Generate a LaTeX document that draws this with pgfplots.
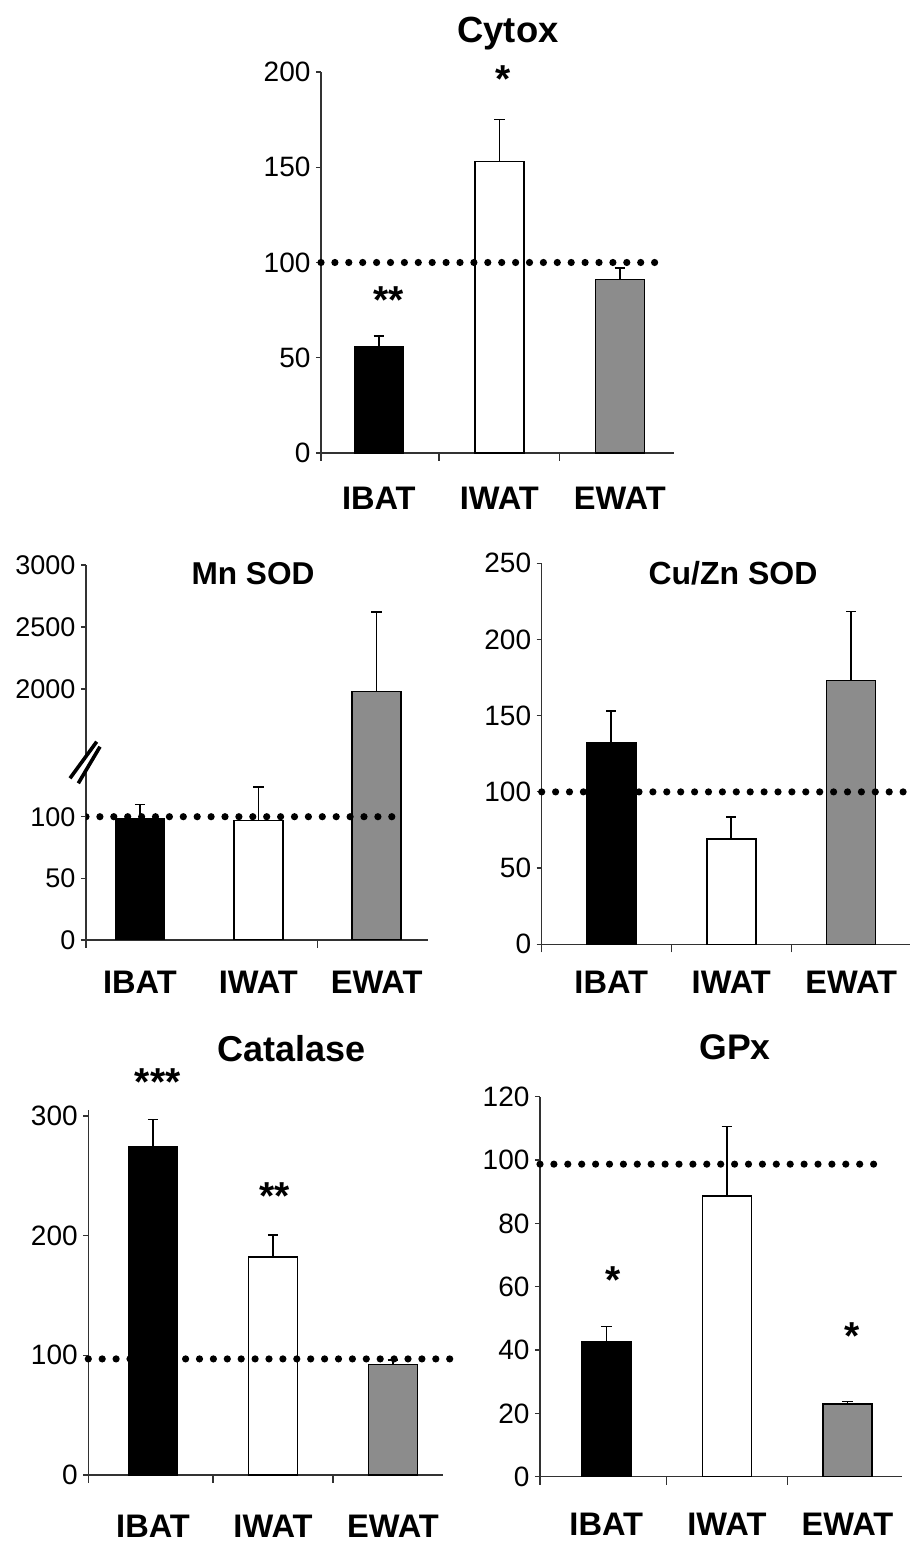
\documentclass[border=0pt]{standalone}
\usepackage{fontspec}
\setmainfont{Liberation Sans}
\usepackage{pgfplots}
\pgfplotsset{compat=1.18}
\definecolor{bargray}{RGB}{140,140,140}
\definecolor{axisgray}{RGB}{50,50,50}
\pgfplotsset{
  panel/.style={
    scale only axis, anchor=south west, clip=false,
    axis x line=bottom, axis y line=left,
    axis line style={-, line width=0.6pt, axisgray},
    tick style={line width=0.6pt, axisgray},
    tick align=outside,
    major tick length=2.6pt, minor tick length=4pt,
    major x tick style={draw=none},
    /pgf/number format/assume math mode=true,
    scaled y ticks=false, /pgf/number format/1000 sep={},
    yticklabel style={font=\fontsize{14}{14}\selectfont, inner xsep=2.5pt},
    xtick={0,1,2}, xticklabels={IBAT,IWAT,EWAT},
    xticklabel style={font=\bfseries\fontsize{16.3}{16}\selectfont, anchor=base, inner ysep=0pt},
  },
  barbase/.style={ybar, bar width=24.5pt, bar shift=0pt, draw=black, line width=0.75pt,
    error bars/y dir=plus, error bars/y explicit,
    error bars/error bar style={line width=0.8pt, black},
    error bars/error mark options={black, line width=0.8pt, mark size=2.6pt, rotate=90}},
  barblack/.style={barbase, fill=black},
  barwhite/.style={barbase, fill=white},
  bargrey/.style={barbase, fill=bargray},
  dots/.style={line width=3.6pt, line cap=round, dash pattern=on 0pt off 6.95pt, black},
}
\begin{document}
\begin{tikzpicture}
\useasboundingbox (0,0) rectangle (455pt,772pt);

% ---------------- Cytox ----------------
\begin{axis}[panel, at={(160.5pt,545.5pt)}, width=176.5pt, height=190.5pt,
  xmin=-0.48, xmax=2.45, ymin=0, ymax=200, ytick={0,50,100,150,200},
  minor xtick={-0.48,0.5,1.5},
  xticklabel style={yshift=-25.7pt}]
  \addplot[barblack] coordinates {(0,56) +- (0,5.5)};
  \addplot[barwhite] coordinates {(1,153) +- (0,22)};
  \addplot[bargrey] coordinates {(2,91) +- (0,6)};
  \addplot[dots] coordinates {(-0.48,100) (2.353,100)};
\end{axis}

% ---------------- Mn SOD (broken axis) ----------------
\begin{axis}[panel, at={(43pt,302pt)}, width=171pt, height=90pt, clip=true,
  xmin=-0.456, xmax=2.434, ymin=0, ymax=146, ytick={0,50,100},
  minor xtick={-0.456,1.5},
  yticklabel style={font=\fontsize{13.5}{13.5}\selectfont},
  xticklabel style={yshift=-24.1pt}]
  \addplot[barblack] coordinates {(0,98) +- (0,12)};
  \addplot[barwhite] coordinates {(1,97) +- (0,27)};
  \addplot[bargrey] coordinates {(2,1978) +- (0,645)};
  \addplot[dots] coordinates {(-0.456,100) (2.22,100)};
\end{axis}
\begin{axis}[panel, at={(43pt,392pt)}, width=171pt, height=97.5pt, clip=true,
  axis x line=none,
  xmin=-0.456, xmax=2.434, ymin=1427, ymax=3000, ytick={2000,2500,3000},
  yticklabels={2000,2500,3000},
  yticklabel style={font=\fontsize{13.5}{13.5}\selectfont}]
  \addplot[bargrey, draw=none] coordinates {(2,1978) +- (0,645)};
  \addplot[black, line width=0.75pt] coordinates {(1.793,1000) (1.793,1978) (2.207,1978) (2.207,1000)};
\end{axis}
\fill[white] (35pt,382.85pt) -- (48.35pt,401.15pt) -- (50pt,398.65pt) -- (39.15pt,380.35pt) -- cycle;
\draw[line width=1.8pt, black] (35pt,382.85pt) -- (48.35pt,401.15pt);
\draw[line width=1.8pt, black] (39.15pt,380.35pt) -- (50pt,398.65pt);

% ---------------- Cu/Zn SOD ----------------
\begin{axis}[panel, at={(270.85pt,299.85pt)}, width=184.15pt, height=190.5pt,
  xmin=-0.58, xmax=2.49, ymin=0, ymax=250, ytick={0,50,100,150,200,250},
  minor xtick={-0.58,0.5,1.5},
  xticklabel style={yshift=-21.9pt}]
  \addplot[barblack] coordinates {(0,132.5) +- (0,20.5)};
  \addplot[barwhite] coordinates {(1,69) +- (0,14.7)};
  \addplot[bargrey] coordinates {(2,173) +- (0,45.5)};
  \addplot[dots] coordinates {(-0.58,100) (2.62,100)};
\end{axis}

% ---------------- Catalase ----------------
\begin{axis}[panel, at={(44.15pt,34.5pt)}, width=177.5pt, height=182.5pt,
  xmin=-0.54, xmax=2.42, ymin=0, ymax=305, ytick={0,100,200,300},
  minor xtick={-0.54,0.5,1.5},
  xticklabel style={yshift=-28.9pt}]
  \addplot[barblack] coordinates {(0,274) +- (0,23)};
  \addplot[barwhite] coordinates {(1,182) +- (0,18.5)};
  \addplot[bargrey] coordinates {(2,92.5) +- (0,3.5)};
  \addplot[dots] coordinates {(-0.54,97) (2.49,97)};
\end{axis}

% ---------------- GPx ----------------
\begin{axis}[panel, at={(270pt,33.65pt)}, width=180.85pt, height=190pt,
  xmin=-0.55, xmax=2.45, ymin=0, ymax=120, ytick={0,20,40,60,80,100,120},
  minor xtick={-0.55,0.5,1.5},
  xticklabel style={yshift=-26.6pt}]
  \addplot[barblack] coordinates {(0,42.6) +- (0,4.8)};
  \addplot[barwhite] coordinates {(1,88.6) +- (0,22)};
  \addplot[bargrey] coordinates {(2,22.9) +- (0,0.8)};
  \addplot[dots] coordinates {(-0.55,98.7) (2.31,98.7)};
\end{axis}

% ---------------- titles ----------------
\node[anchor=base, font=\bfseries\fontsize{18.2}{18}\selectfont] at (254pt,750.65pt) {Cytox};
\node[anchor=base, font=\bfseries\fontsize{15.8}{16}\selectfont] at (126.5pt,479.85pt) {Mn SOD};
\node[anchor=base, font=\bfseries\fontsize{16}{16}\selectfont] at (366.5pt,479.85pt) {Cu/Zn SOD};
\node[anchor=base, font=\bfseries\fontsize{18}{18}\selectfont] at (145.85pt,241.15pt) {Catalase};
\node[anchor=base, font=\bfseries\fontsize{17.8}{18}\selectfont] at (367.5pt,242pt) {GPx};

% ---------------- significance stars ----------------
\tikzset{star/.style={anchor=north, inner sep=0pt, font=\bfseries\fontsize{19.5}{19.5}\selectfont}}
\node[star] at (194.15pt,628.65pt) {**};
\node[star] at (251.65pt,739.5pt) {*};
\node[star] at (78.85pt,237.85pt) {***};
\node[star] at (137.5pt,180.65pt) {**};
\node[star] at (306.65pt,139pt) {*};
\node[star] at (426.15pt,110.65pt) {*};
\end{tikzpicture}
\end{document}
